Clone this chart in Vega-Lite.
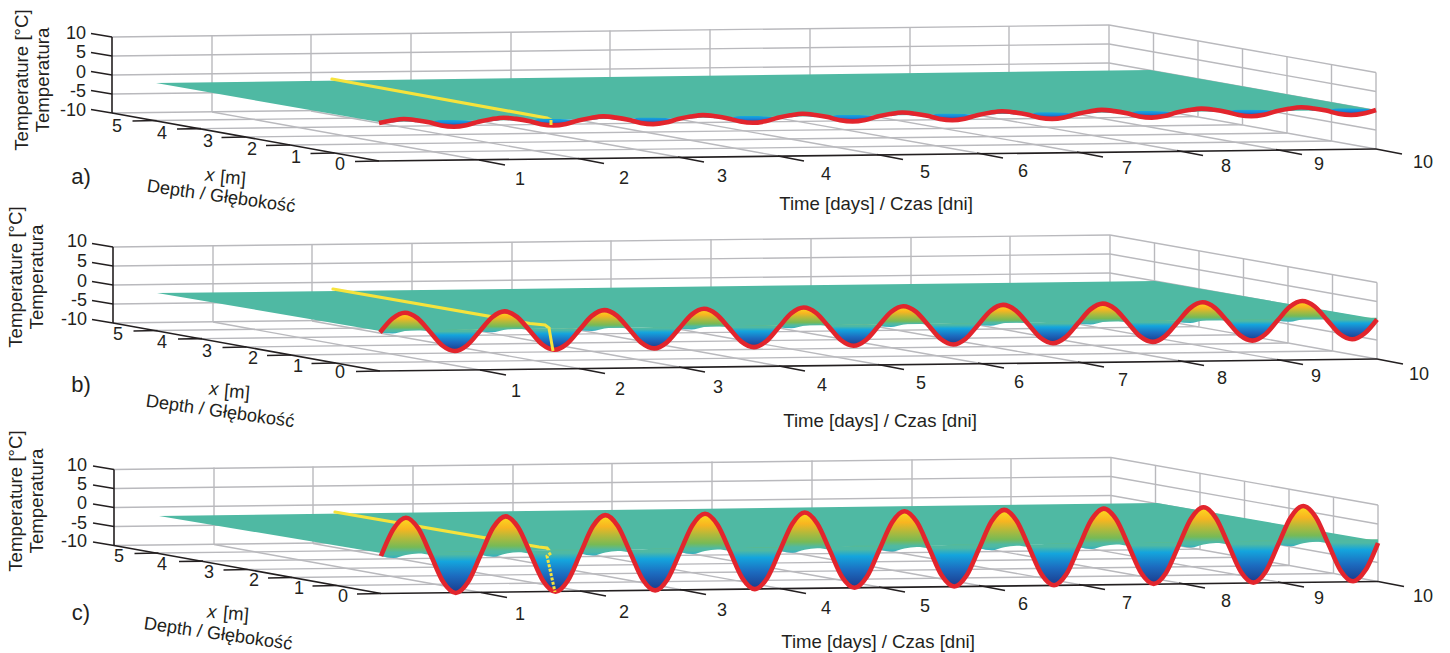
{"$schema":"https://vega.github.io/schema/vega-lite/v6.json","width":1450,"height":653,"padding":0,"autosize":{"type":"none"},"background":"white","config":{"view":{"stroke":null}},
"datasets":{
"grid":[
{"x":212,"y":112,"u":212,"v":35},{"x":311,"y":111,"u":311,"v":34},{"x":411,"y":109,"u":411,"v":33},{"x":511,"y":108,"u":511,"v":32},{"x":610,"y":107,"u":610,"v":30.5},{"x":710,"y":106,"u":710,"v":29},{"x":810,"y":105,"u":810,"v":28},{"x":910,"y":103,"u":910,"v":27},{"x":1009,"y":102,"u":1009,"v":26},{"x":1109,"y":101,"u":1109,"v":25},
{"x":112,"y":37,"u":1109,"v":25},{"x":112,"y":56,"u":1109,"v":44},{"x":112,"y":75,"u":1109,"v":63},{"x":112,"y":94,"u":1109,"v":82},{"x":112,"y":113,"u":1109,"v":101},
{"x":1109,"y":25,"u":1376,"v":72.5},{"x":1109,"y":44,"u":1376,"v":91.5},{"x":1109,"y":63,"u":1376,"v":110.5},{"x":1109,"y":82,"u":1376,"v":130},{"x":1109,"y":101,"u":1376,"v":149},
{"x":1376,"y":149,"u":1376,"v":72.5},{"x":1331.5,"y":141,"u":1331.5,"v":64.7},{"x":1287,"y":133,"u":1287,"v":56.8},{"x":1242.5,"y":124.7,"u":1242.5,"v":49},{"x":1198,"y":116.6,"u":1198,"v":41},{"x":1153.5,"y":108.5,"u":1153.5,"v":33},
{"x":334.5,"y":153,"u":1331.5,"v":141},{"x":290,"y":145,"u":1287,"v":133},{"x":245.5,"y":137,"u":1242.5,"v":124.7},{"x":201,"y":128.6,"u":1198,"v":116.6},{"x":156.5,"y":120.5,"u":1153.5,"v":108.5},
{"x":212,"y":112,"u":479,"v":160},{"x":311,"y":111,"u":578,"v":158.5},{"x":411,"y":109,"u":678,"v":157},{"x":511,"y":108,"u":778,"v":156},{"x":610,"y":107,"u":877,"v":154.5},{"x":710,"y":106,"u":977,"v":153},{"x":810,"y":105,"u":1077,"v":152},{"x":910,"y":103,"u":1177,"v":150.5},{"x":1009,"y":102,"u":1276,"v":149.5},
{"x":213,"y":322,"u":213,"v":245},{"x":312,"y":321,"u":312,"v":244},{"x":412,"y":319,"u":412,"v":243},{"x":512,"y":318,"u":512,"v":242},{"x":611,"y":317,"u":611,"v":240.5},{"x":711,"y":316,"u":711,"v":239},{"x":811,"y":315,"u":811,"v":238},{"x":911,"y":313,"u":911,"v":237},{"x":1010,"y":312,"u":1010,"v":236},{"x":1110,"y":311,"u":1110,"v":235},
{"x":113,"y":247,"u":1110,"v":235},{"x":113,"y":266,"u":1110,"v":254},{"x":113,"y":285,"u":1110,"v":273},{"x":113,"y":304,"u":1110,"v":292},{"x":113,"y":323,"u":1110,"v":311},
{"x":1110,"y":235,"u":1377,"v":282.5},{"x":1110,"y":254,"u":1377,"v":301.5},{"x":1110,"y":273,"u":1377,"v":320.5},{"x":1110,"y":292,"u":1377,"v":340},{"x":1110,"y":311,"u":1377,"v":359},
{"x":1377,"y":359,"u":1377,"v":282.5},{"x":1332.5,"y":351,"u":1332.5,"v":274.7},{"x":1288,"y":343,"u":1288,"v":266.8},{"x":1243.5,"y":334.7,"u":1243.5,"v":259},{"x":1199,"y":326.6,"u":1199,"v":251},{"x":1154.5,"y":318.5,"u":1154.5,"v":243},
{"x":335.5,"y":363,"u":1332.5,"v":351},{"x":291,"y":355,"u":1288,"v":343},{"x":246.5,"y":347,"u":1243.5,"v":334.7},{"x":202,"y":338.6,"u":1199,"v":326.6},{"x":157.5,"y":330.5,"u":1154.5,"v":318.5},
{"x":213,"y":322,"u":480,"v":370},{"x":312,"y":321,"u":579,"v":368.5},{"x":412,"y":319,"u":679,"v":367},{"x":512,"y":318,"u":779,"v":366},{"x":611,"y":317,"u":878,"v":364.5},{"x":711,"y":316,"u":978,"v":363},{"x":811,"y":315,"u":1078,"v":362},{"x":911,"y":313,"u":1178,"v":360.5},{"x":1010,"y":312,"u":1277,"v":359.5},
{"x":214,"y":544.5,"u":214,"v":467.5},{"x":313,"y":543.5,"u":313,"v":466.5},{"x":413,"y":541.5,"u":413,"v":465.5},{"x":513,"y":540.5,"u":513,"v":464.5},{"x":612,"y":539.5,"u":612,"v":463},{"x":712,"y":538.5,"u":712,"v":461.5},{"x":812,"y":537.5,"u":812,"v":460.5},{"x":912,"y":535.5,"u":912,"v":459.5},{"x":1011,"y":534.5,"u":1011,"v":458.5},{"x":1111,"y":533.5,"u":1111,"v":457.5},
{"x":114,"y":469.5,"u":1111,"v":457.5},{"x":114,"y":488.5,"u":1111,"v":476.5},{"x":114,"y":507.5,"u":1111,"v":495.5},{"x":114,"y":526.5,"u":1111,"v":514.5},{"x":114,"y":545.5,"u":1111,"v":533.5},
{"x":1111,"y":457.5,"u":1378,"v":505},{"x":1111,"y":476.5,"u":1378,"v":524},{"x":1111,"y":495.5,"u":1378,"v":543},{"x":1111,"y":514.5,"u":1378,"v":562.5},{"x":1111,"y":533.5,"u":1378,"v":581.5},
{"x":1378,"y":581.5,"u":1378,"v":505},{"x":1333.5,"y":573.5,"u":1333.5,"v":497.2},{"x":1289,"y":565.5,"u":1289,"v":489.3},{"x":1244.5,"y":557.2,"u":1244.5,"v":481.5},{"x":1200,"y":549.1,"u":1200,"v":473.5},{"x":1155.5,"y":541,"u":1155.5,"v":465.5},
{"x":336.5,"y":585.5,"u":1333.5,"v":573.5},{"x":292,"y":577.5,"u":1289,"v":565.5},{"x":247.5,"y":569.5,"u":1244.5,"v":557.2},{"x":203,"y":561.1,"u":1200,"v":549.1},{"x":158.5,"y":553,"u":1155.5,"v":541},
{"x":214,"y":544.5,"u":481,"v":592.5},{"x":313,"y":543.5,"u":580,"v":591},{"x":413,"y":541.5,"u":680,"v":589.5},{"x":513,"y":540.5,"u":780,"v":588.5},{"x":612,"y":539.5,"u":879,"v":587},{"x":712,"y":538.5,"u":979,"v":585.5},{"x":812,"y":537.5,"u":1079,"v":584.5},{"x":912,"y":535.5,"u":1179,"v":583},{"x":1011,"y":534.5,"u":1278,"v":582}
],
"axes":[
{"x":379,"y":161,"u":1376,"v":149},{"x":379,"y":161,"u":112,"v":113},{"x":112,"y":113,"u":112,"v":37},
{"x":91,"y":33.5,"u":112,"v":37},{"x":91,"y":52.5,"u":112,"v":56},{"x":91,"y":71.5,"u":112,"v":75},{"x":91,"y":90.5,"u":112,"v":94},{"x":91,"y":109.5,"u":112,"v":113},
{"x":479,"y":160,"u":505,"v":165},{"x":578,"y":158.5,"u":604,"v":163.5},{"x":678,"y":157,"u":704,"v":162},{"x":778,"y":156,"u":804,"v":161},{"x":877,"y":154.5,"u":903,"v":159.5},{"x":977,"y":153,"u":1003,"v":158},{"x":1077,"y":152,"u":1103,"v":157},{"x":1177,"y":150.5,"u":1203,"v":155.5},{"x":1276,"y":149.5,"u":1302,"v":154.5},{"x":1376,"y":149,"u":1402,"v":154},
{"x":355,"y":161.5,"u":379,"v":161},{"x":310.5,"y":153.5,"u":334.5,"v":153},{"x":266,"y":145.5,"u":290,"v":145},{"x":221.5,"y":137.5,"u":245.5,"v":137},{"x":177,"y":129,"u":201,"v":128.6},{"x":132.5,"y":121,"u":156.5,"v":120.5},
{"x":380,"y":371,"u":1377,"v":359},{"x":380,"y":371,"u":113,"v":323},{"x":113,"y":323,"u":113,"v":247},
{"x":92,"y":243.5,"u":113,"v":247},{"x":92,"y":262.5,"u":113,"v":266},{"x":92,"y":281.5,"u":113,"v":285},{"x":92,"y":300.5,"u":113,"v":304},{"x":92,"y":319.5,"u":113,"v":323},
{"x":480,"y":370,"u":506,"v":375},{"x":579,"y":368.5,"u":605,"v":373.5},{"x":679,"y":367,"u":705,"v":372},{"x":779,"y":366,"u":805,"v":371},{"x":878,"y":364.5,"u":904,"v":369.5},{"x":978,"y":363,"u":1004,"v":368},{"x":1078,"y":362,"u":1104,"v":367},{"x":1178,"y":360.5,"u":1204,"v":365.5},{"x":1277,"y":359.5,"u":1303,"v":364.5},{"x":1377,"y":359,"u":1403,"v":364},
{"x":356,"y":371.5,"u":380,"v":371},{"x":311.5,"y":363.5,"u":335.5,"v":363},{"x":267,"y":355.5,"u":291,"v":355},{"x":222.5,"y":347.5,"u":246.5,"v":347},{"x":178,"y":339,"u":202,"v":338.6},{"x":133.5,"y":331,"u":157.5,"v":330.5},
{"x":381,"y":593.5,"u":1378,"v":581.5},{"x":381,"y":593.5,"u":114,"v":545.5},{"x":114,"y":545.5,"u":114,"v":469.5},
{"x":93,"y":466,"u":114,"v":469.5},{"x":93,"y":485,"u":114,"v":488.5},{"x":93,"y":504,"u":114,"v":507.5},{"x":93,"y":523,"u":114,"v":526.5},{"x":93,"y":542,"u":114,"v":545.5},
{"x":481,"y":592.5,"u":507,"v":597.5},{"x":580,"y":591,"u":606,"v":596},{"x":680,"y":589.5,"u":706,"v":594.5},{"x":780,"y":588.5,"u":806,"v":593.5},{"x":879,"y":587,"u":905,"v":592},{"x":979,"y":585.5,"u":1005,"v":590.5},{"x":1079,"y":584.5,"u":1105,"v":589.5},{"x":1179,"y":583,"u":1205,"v":588},{"x":1278,"y":582,"u":1304,"v":587},{"x":1378,"y":581.5,"u":1404,"v":586.5},
{"x":357,"y":594,"u":381,"v":593.5},{"x":312.5,"y":586,"u":336.5,"v":585.5},{"x":268,"y":578,"u":292,"v":577.5},{"x":223.5,"y":570,"u":247.5,"v":569.5},{"x":179,"y":561.5,"u":203,"v":561.1},{"x":134.5,"y":553.5,"u":158.5,"v":553}
],
"surface":[
{"p":"a","x":156,"y":83,"l":83},{"p":"a","x":379,"y":80,"l":122},{"p":"a","x":1150,"y":70,"l":112},{"p":"a","x":1376,"y":110,"l":110},
{"p":"b","x":157,"y":293,"l":293},{"p":"b","x":380,"y":290.5,"l":331},{"p":"b","x":1155,"y":281,"l":321},{"p":"b","x":1377,"y":319,"l":319},
{"p":"c","x":159,"y":516,"l":516},{"p":"c","x":381,"y":513,"l":553},{"p":"c","x":1157,"y":503,"l":543},{"p":"c","x":1372,"y":540,"l":541}
],
"yellow1":[
{"p":"a","x":332,"y":79},{"p":"a","x":547,"y":118},{"p":"a","x":551,"y":120},
{"p":"b","x":333,"y":289},{"p":"b","x":530,"y":323.5},{"p":"b","x":545,"y":325},{"p":"b","x":549,"y":328},
{"p":"c","x":335,"y":512},{"p":"c","x":539,"y":547},{"p":"c","x":547,"y":548},{"p":"c","x":551,"y":553}
],
"yellow2":[{"p":"a","x":551,"y":120},{"p":"a","x":551,"y":125},{"p":"b","x":549,"y":328},{"p":"b","x":553,"y":351}],
"yellow3":[{"p":"c","x":551,"y":553},{"p":"c","x":547,"y":556},{"p":"c","x":555,"y":592}],
"wave":[
{"id":"a0","p":"a","x":379,"w":123,"u":123,"l":123},{"id":"a0","p":"a","x":391.5,"w":120.5,"u":120.5,"l":122.5},{"id":"a0","p":"a","x":403.9,"w":119,"u":119,"l":121},{"id":"a0","p":"a","x":416.4,"w":120.2,"u":120.2,"l":122.2},{"id":"a0","p":"a","x":428.9,"w":122.3,"u":122,"l":122.3},{"id":"a0","p":"a","x":441.3,"w":125.5,"u":120,"l":125.5},{"id":"a0","p":"a","x":453.8,"w":126.7,"u":120,"l":126.7},{"id":"a0","p":"a","x":466.2,"w":125.2,"u":120.5,"l":125.2},{"id":"a0","p":"a","x":478.7,"w":121.7,"u":121.7,"l":121.7},
{"id":"a1","p":"a","x":478.7,"w":121.7,"u":121.7,"l":121.7},{"id":"a1","p":"a","x":491.2,"w":119.2,"u":119.2,"l":121.2},{"id":"a1","p":"a","x":503.6,"w":117.7,"u":117.7,"l":119.7},{"id":"a1","p":"a","x":516.1,"w":118.9,"u":118.9,"l":120.9},{"id":"a1","p":"a","x":528.6,"w":121,"u":120.7,"l":121},{"id":"a1","p":"a","x":541,"w":124.2,"u":118.7,"l":124.2},{"id":"a1","p":"a","x":553.5,"w":125.4,"u":118.7,"l":125.4},{"id":"a1","p":"a","x":565.9,"w":123.9,"u":119.2,"l":123.9},{"id":"a1","p":"a","x":578.4,"w":120.4,"u":120.4,"l":120.4},
{"id":"a2","p":"a","x":578.4,"w":120.4,"u":120.4,"l":120.4},{"id":"a2","p":"a","x":590.9,"w":117.9,"u":117.9,"l":119.9},{"id":"a2","p":"a","x":603.3,"w":116.4,"u":116.4,"l":118.4},{"id":"a2","p":"a","x":615.8,"w":117.6,"u":117.6,"l":119.6},{"id":"a2","p":"a","x":628.3,"w":119.7,"u":119.4,"l":119.7},{"id":"a2","p":"a","x":640.7,"w":122.9,"u":117.4,"l":122.9},{"id":"a2","p":"a","x":653.2,"w":124.1,"u":117.4,"l":124.1},{"id":"a2","p":"a","x":665.6,"w":122.6,"u":117.9,"l":122.6},{"id":"a2","p":"a","x":678.1,"w":119.1,"u":119.1,"l":119.1},
{"id":"a3","p":"a","x":678.1,"w":119.1,"u":119.1,"l":119.1},{"id":"a3","p":"a","x":690.6,"w":116.6,"u":116.6,"l":118.6},{"id":"a3","p":"a","x":703,"w":115.1,"u":115.1,"l":117.1},{"id":"a3","p":"a","x":715.5,"w":116.3,"u":116.3,"l":118.3},{"id":"a3","p":"a","x":728,"w":118.4,"u":118.1,"l":118.4},{"id":"a3","p":"a","x":740.4,"w":121.6,"u":116.1,"l":121.6},{"id":"a3","p":"a","x":752.9,"w":122.8,"u":116.1,"l":122.8},{"id":"a3","p":"a","x":765.3,"w":121.3,"u":116.6,"l":121.3},{"id":"a3","p":"a","x":777.8,"w":117.8,"u":117.8,"l":117.8},
{"id":"a4","p":"a","x":777.8,"w":117.8,"u":117.8,"l":117.8},{"id":"a4","p":"a","x":790.3,"w":115.3,"u":115.3,"l":117.3},{"id":"a4","p":"a","x":802.7,"w":113.8,"u":113.8,"l":115.8},{"id":"a4","p":"a","x":815.2,"w":115,"u":115,"l":117},{"id":"a4","p":"a","x":827.7,"w":117.1,"u":116.8,"l":117.1},{"id":"a4","p":"a","x":840.1,"w":120.3,"u":114.8,"l":120.3},{"id":"a4","p":"a","x":852.6,"w":121.5,"u":114.8,"l":121.5},{"id":"a4","p":"a","x":865,"w":120,"u":115.3,"l":120},{"id":"a4","p":"a","x":877.5,"w":116.5,"u":116.5,"l":116.5},
{"id":"a5","p":"a","x":877.5,"w":116.5,"u":116.5,"l":116.5},{"id":"a5","p":"a","x":890,"w":114,"u":114,"l":116},{"id":"a5","p":"a","x":902.4,"w":112.5,"u":112.5,"l":114.5},{"id":"a5","p":"a","x":914.9,"w":113.7,"u":113.7,"l":115.7},{"id":"a5","p":"a","x":927.4,"w":115.8,"u":115.5,"l":115.8},{"id":"a5","p":"a","x":939.8,"w":119,"u":113.5,"l":119},{"id":"a5","p":"a","x":952.3,"w":120.2,"u":113.5,"l":120.2},{"id":"a5","p":"a","x":964.7,"w":118.7,"u":114,"l":118.7},{"id":"a5","p":"a","x":977.2,"w":115.2,"u":115.2,"l":115.2},
{"id":"a6","p":"a","x":977.2,"w":115.2,"u":115.2,"l":115.2},{"id":"a6","p":"a","x":989.7,"w":112.7,"u":112.7,"l":114.7},{"id":"a6","p":"a","x":1002.1,"w":111.2,"u":111.2,"l":113.2},{"id":"a6","p":"a","x":1014.6,"w":112.4,"u":112.4,"l":114.4},{"id":"a6","p":"a","x":1027.1,"w":114.5,"u":114.2,"l":114.5},{"id":"a6","p":"a","x":1039.5,"w":117.7,"u":112.2,"l":117.7},{"id":"a6","p":"a","x":1052,"w":118.9,"u":112.2,"l":118.9},{"id":"a6","p":"a","x":1064.4,"w":117.4,"u":112.7,"l":117.4},{"id":"a6","p":"a","x":1076.9,"w":113.9,"u":113.9,"l":113.9},
{"id":"a7","p":"a","x":1076.9,"w":113.9,"u":113.9,"l":113.9},{"id":"a7","p":"a","x":1089.4,"w":111.4,"u":111.4,"l":113.4},{"id":"a7","p":"a","x":1101.8,"w":109.9,"u":109.9,"l":111.9},{"id":"a7","p":"a","x":1114.3,"w":111.1,"u":111.1,"l":113.1},{"id":"a7","p":"a","x":1126.8,"w":113.2,"u":112.9,"l":113.2},{"id":"a7","p":"a","x":1139.2,"w":116.4,"u":110.9,"l":116.4},{"id":"a7","p":"a","x":1151.7,"w":117.6,"u":110.9,"l":117.6},{"id":"a7","p":"a","x":1164.1,"w":116.1,"u":111.4,"l":116.1},{"id":"a7","p":"a","x":1176.6,"w":112.6,"u":112.6,"l":112.6},
{"id":"a8","p":"a","x":1176.6,"w":112.6,"u":112.6,"l":112.6},{"id":"a8","p":"a","x":1189.1,"w":110.1,"u":110.1,"l":112.1},{"id":"a8","p":"a","x":1201.5,"w":108.6,"u":108.6,"l":110.6},{"id":"a8","p":"a","x":1214,"w":109.8,"u":109.8,"l":111.8},{"id":"a8","p":"a","x":1226.5,"w":111.9,"u":111.6,"l":111.9},{"id":"a8","p":"a","x":1238.9,"w":115.1,"u":109.6,"l":115.1},{"id":"a8","p":"a","x":1251.4,"w":116.3,"u":109.6,"l":116.3},{"id":"a8","p":"a","x":1263.8,"w":114.8,"u":110.1,"l":114.8},{"id":"a8","p":"a","x":1276.3,"w":111.3,"u":111.3,"l":111.3},
{"id":"a9","p":"a","x":1276.3,"w":111.3,"u":111.3,"l":111.3},{"id":"a9","p":"a","x":1288.8,"w":108.8,"u":108.8,"l":110.8},{"id":"a9","p":"a","x":1301.2,"w":107.3,"u":107.3,"l":109.3},{"id":"a9","p":"a","x":1313.7,"w":108.5,"u":108.5,"l":110.5},{"id":"a9","p":"a","x":1326.2,"w":110.6,"u":110.3,"l":110.6},{"id":"a9","p":"a","x":1338.6,"w":113.8,"u":108.3,"l":113.8},{"id":"a9","p":"a","x":1351.1,"w":115,"u":108.3,"l":115},{"id":"a9","p":"a","x":1363.5,"w":113.5,"u":108.8,"l":113.5},{"id":"a9","p":"a","x":1376,"w":110,"u":110,"l":110},
{"id":"b0","p":"b","x":380,"w":332.5,"u":332.5,"l":332.5},{"id":"b0","p":"b","x":392.5,"w":318.5,"u":318.5,"l":333.5},{"id":"b0","p":"b","x":404.9,"w":312.7,"u":312.7,"l":331},{"id":"b0","p":"b","x":417.4,"w":318.2,"u":318.2,"l":330},{"id":"b0","p":"b","x":429.9,"w":331.8,"u":330,"l":331.8},{"id":"b0","p":"b","x":442.3,"w":345.5,"u":330,"l":345.5},{"id":"b0","p":"b","x":454.8,"w":351,"u":329.5,"l":351},{"id":"b0","p":"b","x":467.2,"w":345.2,"u":329.5,"l":345.2},{"id":"b0","p":"b","x":479.7,"w":331.2,"u":329.5,"l":331.2},
{"id":"b1","p":"b","x":479.7,"w":331.2,"u":331.2,"l":331.2},{"id":"b1","p":"b","x":492.2,"w":317.2,"u":317.2,"l":332.2},{"id":"b1","p":"b","x":504.6,"w":311.4,"u":311.4,"l":329.7},{"id":"b1","p":"b","x":517.1,"w":316.9,"u":316.9,"l":328.7},{"id":"b1","p":"b","x":529.6,"w":330.5,"u":328.7,"l":330.5},{"id":"b1","p":"b","x":542,"w":344.2,"u":328.7,"l":344.2},{"id":"b1","p":"b","x":554.5,"w":349.7,"u":328.2,"l":349.7},{"id":"b1","p":"b","x":566.9,"w":343.9,"u":328.2,"l":343.9},{"id":"b1","p":"b","x":579.4,"w":329.9,"u":328.2,"l":329.9},
{"id":"b2","p":"b","x":579.4,"w":329.9,"u":329.9,"l":329.9},{"id":"b2","p":"b","x":591.9,"w":315.9,"u":315.9,"l":330.9},{"id":"b2","p":"b","x":604.3,"w":310.1,"u":310.1,"l":328.4},{"id":"b2","p":"b","x":616.8,"w":315.6,"u":315.6,"l":327.4},{"id":"b2","p":"b","x":629.3,"w":329.2,"u":327.4,"l":329.2},{"id":"b2","p":"b","x":641.7,"w":342.9,"u":327.4,"l":342.9},{"id":"b2","p":"b","x":654.2,"w":348.4,"u":326.9,"l":348.4},{"id":"b2","p":"b","x":666.6,"w":342.6,"u":326.9,"l":342.6},{"id":"b2","p":"b","x":679.1,"w":328.6,"u":326.9,"l":328.6},
{"id":"b3","p":"b","x":679.1,"w":328.6,"u":328.6,"l":328.6},{"id":"b3","p":"b","x":691.6,"w":314.6,"u":314.6,"l":329.6},{"id":"b3","p":"b","x":704,"w":308.8,"u":308.8,"l":327.1},{"id":"b3","p":"b","x":716.5,"w":314.3,"u":314.3,"l":326.1},{"id":"b3","p":"b","x":729,"w":327.9,"u":326.1,"l":327.9},{"id":"b3","p":"b","x":741.4,"w":341.6,"u":326.1,"l":341.6},{"id":"b3","p":"b","x":753.9,"w":347.1,"u":325.6,"l":347.1},{"id":"b3","p":"b","x":766.3,"w":341.3,"u":325.6,"l":341.3},{"id":"b3","p":"b","x":778.8,"w":327.3,"u":325.6,"l":327.3},
{"id":"b4","p":"b","x":778.8,"w":327.3,"u":327.3,"l":327.3},{"id":"b4","p":"b","x":791.3,"w":313.3,"u":313.3,"l":328.3},{"id":"b4","p":"b","x":803.7,"w":307.5,"u":307.5,"l":325.8},{"id":"b4","p":"b","x":816.2,"w":313,"u":313,"l":324.8},{"id":"b4","p":"b","x":828.7,"w":326.6,"u":324.8,"l":326.6},{"id":"b4","p":"b","x":841.1,"w":340.3,"u":324.8,"l":340.3},{"id":"b4","p":"b","x":853.6,"w":345.8,"u":324.3,"l":345.8},{"id":"b4","p":"b","x":866,"w":340,"u":324.3,"l":340},{"id":"b4","p":"b","x":878.5,"w":326,"u":324.3,"l":326},
{"id":"b5","p":"b","x":878.5,"w":326,"u":326,"l":326},{"id":"b5","p":"b","x":891,"w":312,"u":312,"l":327},{"id":"b5","p":"b","x":903.4,"w":306.2,"u":306.2,"l":324.5},{"id":"b5","p":"b","x":915.9,"w":311.7,"u":311.7,"l":323.5},{"id":"b5","p":"b","x":928.4,"w":325.3,"u":323.5,"l":325.3},{"id":"b5","p":"b","x":940.8,"w":339,"u":323.5,"l":339},{"id":"b5","p":"b","x":953.3,"w":344.5,"u":323,"l":344.5},{"id":"b5","p":"b","x":965.7,"w":338.7,"u":323,"l":338.7},{"id":"b5","p":"b","x":978.2,"w":324.7,"u":323,"l":324.7},
{"id":"b6","p":"b","x":978.2,"w":324.7,"u":324.7,"l":324.7},{"id":"b6","p":"b","x":990.7,"w":310.7,"u":310.7,"l":325.7},{"id":"b6","p":"b","x":1003.1,"w":304.9,"u":304.9,"l":323.2},{"id":"b6","p":"b","x":1015.6,"w":310.4,"u":310.4,"l":322.2},{"id":"b6","p":"b","x":1028.1,"w":324,"u":322.2,"l":324},{"id":"b6","p":"b","x":1040.5,"w":337.7,"u":322.2,"l":337.7},{"id":"b6","p":"b","x":1053,"w":343.2,"u":321.7,"l":343.2},{"id":"b6","p":"b","x":1065.4,"w":337.4,"u":321.7,"l":337.4},{"id":"b6","p":"b","x":1077.9,"w":323.4,"u":321.7,"l":323.4},
{"id":"b7","p":"b","x":1077.9,"w":323.4,"u":323.4,"l":323.4},{"id":"b7","p":"b","x":1090.4,"w":309.4,"u":309.4,"l":324.4},{"id":"b7","p":"b","x":1102.8,"w":303.6,"u":303.6,"l":321.9},{"id":"b7","p":"b","x":1115.3,"w":309.1,"u":309.1,"l":320.9},{"id":"b7","p":"b","x":1127.8,"w":322.7,"u":320.9,"l":322.7},{"id":"b7","p":"b","x":1140.2,"w":336.4,"u":320.9,"l":336.4},{"id":"b7","p":"b","x":1152.7,"w":341.9,"u":320.4,"l":341.9},{"id":"b7","p":"b","x":1165.1,"w":336.1,"u":320.4,"l":336.1},{"id":"b7","p":"b","x":1177.6,"w":322.1,"u":320.4,"l":322.1},
{"id":"b8","p":"b","x":1177.6,"w":322.1,"u":322.1,"l":322.1},{"id":"b8","p":"b","x":1190.1,"w":308.1,"u":308.1,"l":323.1},{"id":"b8","p":"b","x":1202.5,"w":302.3,"u":302.3,"l":320.6},{"id":"b8","p":"b","x":1215,"w":307.8,"u":307.8,"l":319.6},{"id":"b8","p":"b","x":1227.5,"w":321.4,"u":319.6,"l":321.4},{"id":"b8","p":"b","x":1239.9,"w":335.1,"u":319.6,"l":335.1},{"id":"b8","p":"b","x":1252.4,"w":340.6,"u":319.1,"l":340.6},{"id":"b8","p":"b","x":1264.8,"w":334.8,"u":319.1,"l":334.8},{"id":"b8","p":"b","x":1277.3,"w":320.8,"u":319.1,"l":320.8},
{"id":"b9","p":"b","x":1277.3,"w":320.8,"u":320.8,"l":320.8},{"id":"b9","p":"b","x":1289.8,"w":306.8,"u":306.8,"l":321.8},{"id":"b9","p":"b","x":1302.2,"w":301,"u":301,"l":319.3},{"id":"b9","p":"b","x":1314.7,"w":306.5,"u":306.5,"l":318.3},{"id":"b9","p":"b","x":1327.2,"w":320.1,"u":318.3,"l":320.1},{"id":"b9","p":"b","x":1339.6,"w":333.8,"u":318.3,"l":333.8},{"id":"b9","p":"b","x":1352.1,"w":339.3,"u":317.8,"l":339.3},{"id":"b9","p":"b","x":1364.5,"w":333.5,"u":317.8,"l":333.5},{"id":"b9","p":"b","x":1377,"w":319.5,"u":317.8,"l":319.5},
{"id":"c0","p":"c","x":381,"w":556,"u":556,"l":556},{"id":"c0","p":"c","x":393.5,"w":528.9,"u":528.9,"l":558},{"id":"c0","p":"c","x":405.9,"w":517.7,"u":517.7,"l":555},{"id":"c0","p":"c","x":418.4,"w":528.6,"u":528.6,"l":553.5},{"id":"c0","p":"c","x":430.9,"w":555.3,"u":552,"l":555.3},{"id":"c0","p":"c","x":443.3,"w":582.1,"u":552,"l":582.1},{"id":"c0","p":"c","x":455.8,"w":593,"u":551,"l":593},{"id":"c0","p":"c","x":468.2,"w":581.8,"u":551,"l":581.8},{"id":"c0","p":"c","x":480.7,"w":554.7,"u":551,"l":554.7},
{"id":"c1","p":"c","x":480.7,"w":554.7,"u":554.7,"l":554.7},{"id":"c1","p":"c","x":493.2,"w":527.6,"u":527.6,"l":556.7},{"id":"c1","p":"c","x":505.6,"w":516.4,"u":516.4,"l":553.7},{"id":"c1","p":"c","x":518.1,"w":527.3,"u":527.3,"l":552.2},{"id":"c1","p":"c","x":530.6,"w":554,"u":550.7,"l":554},{"id":"c1","p":"c","x":543,"w":580.8,"u":550.7,"l":580.8},{"id":"c1","p":"c","x":555.5,"w":591.7,"u":549.7,"l":591.7},{"id":"c1","p":"c","x":567.9,"w":580.5,"u":549.7,"l":580.5},{"id":"c1","p":"c","x":580.4,"w":553.4,"u":549.7,"l":553.4},
{"id":"c2","p":"c","x":580.4,"w":553.4,"u":553.4,"l":553.4},{"id":"c2","p":"c","x":592.9,"w":526.3,"u":526.3,"l":555.4},{"id":"c2","p":"c","x":605.3,"w":515.1,"u":515.1,"l":552.4},{"id":"c2","p":"c","x":617.8,"w":526,"u":526,"l":550.9},{"id":"c2","p":"c","x":630.3,"w":552.7,"u":549.4,"l":552.7},{"id":"c2","p":"c","x":642.7,"w":579.5,"u":549.4,"l":579.5},{"id":"c2","p":"c","x":655.2,"w":590.4,"u":548.4,"l":590.4},{"id":"c2","p":"c","x":667.6,"w":579.2,"u":548.4,"l":579.2},{"id":"c2","p":"c","x":680.1,"w":552.1,"u":548.4,"l":552.1},
{"id":"c3","p":"c","x":680.1,"w":552.1,"u":552.1,"l":552.1},{"id":"c3","p":"c","x":692.6,"w":525,"u":525,"l":554.1},{"id":"c3","p":"c","x":705,"w":513.8,"u":513.8,"l":551.1},{"id":"c3","p":"c","x":717.5,"w":524.7,"u":524.7,"l":549.6},{"id":"c3","p":"c","x":730,"w":551.4,"u":548.1,"l":551.4},{"id":"c3","p":"c","x":742.4,"w":578.2,"u":548.1,"l":578.2},{"id":"c3","p":"c","x":754.9,"w":589.1,"u":547.1,"l":589.1},{"id":"c3","p":"c","x":767.3,"w":577.9,"u":547.1,"l":577.9},{"id":"c3","p":"c","x":779.8,"w":550.8,"u":547.1,"l":550.8},
{"id":"c4","p":"c","x":779.8,"w":550.8,"u":550.8,"l":550.8},{"id":"c4","p":"c","x":792.3,"w":523.7,"u":523.7,"l":552.8},{"id":"c4","p":"c","x":804.7,"w":512.5,"u":512.5,"l":549.8},{"id":"c4","p":"c","x":817.2,"w":523.4,"u":523.4,"l":548.3},{"id":"c4","p":"c","x":829.7,"w":550.1,"u":546.8,"l":550.1},{"id":"c4","p":"c","x":842.1,"w":576.9,"u":546.8,"l":576.9},{"id":"c4","p":"c","x":854.6,"w":587.8,"u":545.8,"l":587.8},{"id":"c4","p":"c","x":867,"w":576.6,"u":545.8,"l":576.6},{"id":"c4","p":"c","x":879.5,"w":549.5,"u":545.8,"l":549.5},
{"id":"c5","p":"c","x":879.5,"w":549.5,"u":549.5,"l":549.5},{"id":"c5","p":"c","x":892,"w":522.4,"u":522.4,"l":551.5},{"id":"c5","p":"c","x":904.4,"w":511.2,"u":511.2,"l":548.5},{"id":"c5","p":"c","x":916.9,"w":522.1,"u":522.1,"l":547},{"id":"c5","p":"c","x":929.4,"w":548.8,"u":545.5,"l":548.8},{"id":"c5","p":"c","x":941.8,"w":575.6,"u":545.5,"l":575.6},{"id":"c5","p":"c","x":954.3,"w":586.5,"u":544.5,"l":586.5},{"id":"c5","p":"c","x":966.7,"w":575.3,"u":544.5,"l":575.3},{"id":"c5","p":"c","x":979.2,"w":548.2,"u":544.5,"l":548.2},
{"id":"c6","p":"c","x":979.2,"w":548.2,"u":548.2,"l":548.2},{"id":"c6","p":"c","x":991.7,"w":521.1,"u":521.1,"l":550.2},{"id":"c6","p":"c","x":1004.1,"w":509.9,"u":509.9,"l":547.2},{"id":"c6","p":"c","x":1016.6,"w":520.8,"u":520.8,"l":545.7},{"id":"c6","p":"c","x":1029.1,"w":547.5,"u":544.2,"l":547.5},{"id":"c6","p":"c","x":1041.5,"w":574.3,"u":544.2,"l":574.3},{"id":"c6","p":"c","x":1054,"w":585.2,"u":543.2,"l":585.2},{"id":"c6","p":"c","x":1066.4,"w":574,"u":543.2,"l":574},{"id":"c6","p":"c","x":1078.9,"w":546.9,"u":543.2,"l":546.9},
{"id":"c7","p":"c","x":1078.9,"w":546.9,"u":546.9,"l":546.9},{"id":"c7","p":"c","x":1091.4,"w":519.8,"u":519.8,"l":548.9},{"id":"c7","p":"c","x":1103.8,"w":508.6,"u":508.6,"l":545.9},{"id":"c7","p":"c","x":1116.3,"w":519.5,"u":519.5,"l":544.4},{"id":"c7","p":"c","x":1128.8,"w":546.2,"u":542.9,"l":546.2},{"id":"c7","p":"c","x":1141.2,"w":573,"u":542.9,"l":573},{"id":"c7","p":"c","x":1153.7,"w":583.9,"u":541.9,"l":583.9},{"id":"c7","p":"c","x":1166.1,"w":572.7,"u":541.9,"l":572.7},{"id":"c7","p":"c","x":1178.6,"w":545.6,"u":541.9,"l":545.6},
{"id":"c8","p":"c","x":1178.6,"w":545.6,"u":545.6,"l":545.6},{"id":"c8","p":"c","x":1191.1,"w":518.5,"u":518.5,"l":547.6},{"id":"c8","p":"c","x":1203.5,"w":507.3,"u":507.3,"l":544.6},{"id":"c8","p":"c","x":1216,"w":518.2,"u":518.2,"l":543.1},{"id":"c8","p":"c","x":1228.5,"w":544.9,"u":541.6,"l":544.9},{"id":"c8","p":"c","x":1240.9,"w":571.7,"u":541.6,"l":571.7},{"id":"c8","p":"c","x":1253.4,"w":582.6,"u":540.6,"l":582.6},{"id":"c8","p":"c","x":1265.8,"w":571.4,"u":540.6,"l":571.4},{"id":"c8","p":"c","x":1278.3,"w":544.3,"u":540.6,"l":544.3},
{"id":"c9","p":"c","x":1278.3,"w":544.3,"u":544.3,"l":544.3},{"id":"c9","p":"c","x":1290.8,"w":517.2,"u":517.2,"l":546.3},{"id":"c9","p":"c","x":1303.2,"w":506,"u":506,"l":543.3},{"id":"c9","p":"c","x":1315.7,"w":516.9,"u":516.9,"l":541.8},{"id":"c9","p":"c","x":1328.2,"w":543.6,"u":540.3,"l":543.6},{"id":"c9","p":"c","x":1340.6,"w":570.4,"u":540.3,"l":570.4},{"id":"c9","p":"c","x":1353.1,"w":581.3,"u":539.3,"l":581.3},{"id":"c9","p":"c","x":1365.5,"w":570.1,"u":539.3,"l":570.1},{"id":"c9","p":"c","x":1378,"w":543,"u":539.3,"l":543}
],
"tempTicks":[
{"x":86,"y":34,"t":"10"},{"x":86,"y":53,"t":"5"},{"x":86,"y":73,"t":"0"},{"x":86,"y":92,"t":"-5"},{"x":86,"y":111,"t":"-10"},
{"x":87,"y":242,"t":"10"},{"x":87,"y":262,"t":"5"},{"x":87,"y":282,"t":"0"},{"x":87,"y":301,"t":"-5"},{"x":87,"y":320,"t":"-10"},
{"x":87,"y":466,"t":"10"},{"x":87,"y":485,"t":"5"},{"x":87,"y":504,"t":"0"},{"x":87,"y":524,"t":"-5"},{"x":87,"y":542,"t":"-10"}
],
"ticks":[
{"x":117,"y":127,"t":"5"},{"x":162,"y":134,"t":"4"},{"x":208,"y":142,"t":"3"},{"x":252,"y":150,"t":"2"},{"x":296,"y":158,"t":"1"},{"x":340,"y":165,"t":"0"},
{"x":118,"y":335,"t":"5"},{"x":162,"y":343,"t":"4"},{"x":207,"y":352,"t":"3"},{"x":253,"y":359,"t":"2"},{"x":298,"y":367,"t":"1"},{"x":340,"y":373,"t":"0"},
{"x":119,"y":557,"t":"5"},{"x":162,"y":565,"t":"4"},{"x":209,"y":573,"t":"3"},{"x":254,"y":581,"t":"2"},{"x":299,"y":589,"t":"1"},{"x":343,"y":597,"t":"0"},
{"x":520,"y":180,"t":"1"},{"x":624,"y":179,"t":"2"},{"x":722,"y":177,"t":"3"},{"x":826,"y":175,"t":"4"},{"x":925,"y":173,"t":"5"},{"x":1023,"y":172,"t":"6"},{"x":1127,"y":169,"t":"7"},{"x":1226,"y":167,"t":"8"},{"x":1319,"y":165,"t":"9"},{"x":1423,"y":163,"t":"10"},
{"x":516,"y":392,"t":"1"},{"x":620,"y":390,"t":"2"},{"x":718,"y":388,"t":"3"},{"x":822,"y":386,"t":"4"},{"x":921,"y":384,"t":"5"},{"x":1019,"y":383,"t":"6"},{"x":1123,"y":381,"t":"7"},{"x":1222,"y":379,"t":"8"},{"x":1316,"y":377,"t":"9"},{"x":1419,"y":375,"t":"10"},
{"x":520,"y":615,"t":"1"},{"x":624,"y":613,"t":"2"},{"x":722,"y":611,"t":"3"},{"x":826,"y":609,"t":"4"},{"x":925,"y":607,"t":"5"},{"x":1023,"y":605,"t":"6"},{"x":1127,"y":604,"t":"7"},{"x":1226,"y":602,"t":"8"},{"x":1319,"y":599,"t":"9"},{"x":1423,"y":597,"t":"10"}
],
"time":[{"x":876,"y":204,"t":"Time [days] / Czas [dni]"},{"x":880,"y":421,"t":"Time [days] / Czas [dni]"},{"x":878,"y":642,"t":"Time [days] / Czas [dni]"}],
"letters":[{"x":81,"y":177,"t":"a)"},{"x":81,"y":385,"t":"b)"},{"x":81,"y":613,"t":"c)"}],
"vert":[{"x":22,"y":80,"t":"Temperature [°C]"},{"x":43,"y":80,"t":"Temperatura"},{"x":16,"y":277,"t":"Temperature [°C]"},{"x":37,"y":277,"t":"Temperatura"},{"x":16,"y":501,"t":"Temperature [°C]"},{"x":37,"y":501,"t":"Temperatura"}],
"depth":[{"x":221,"y":197,"t":"Depth / Głębokość"},{"x":220,"y":412,"t":"Depth / Głębokość"},{"x":218,"y":634.5,"t":"Depth / Głębokość"}],
"xvar":[{"x":210,"y":175,"t":"x"},{"x":214,"y":389,"t":"x"},{"x":212,"y":612,"t":"x"}],
"xunit":[{"x":233,"y":178,"t":"[m]"},{"x":237,"y":392,"t":"[m]"},{"x":236,"y":614,"t":"[m]"}]
},
"encoding":{"x":{"field":"x","type":"quantitative","scale":{"domain":[0,1450],"nice":false,"zero":false},"axis":null},"y":{"field":"y","type":"quantitative","scale":{"domain":[653,0],"nice":false,"zero":false},"axis":null}},
"layer":[
{"data":{"name":"grid"},"mark":{"type":"rule","color":"#b9b9bd","strokeWidth":1.4},"encoding":{"x2":{"field":"u"},"y2":{"field":"v"}}},
{"data":{"name":"axes"},"mark":{"type":"rule","color":"#231f20","strokeWidth":1.6},"encoding":{"x2":{"field":"u"},"y2":{"field":"v"}}},
{"data":{"name":"surface"},"mark":{"type":"area","color":"#4fb9a3","orient":"vertical"},"encoding":{"y2":{"field":"l"},"detail":{"field":"p"}}},
{"data":{"name":"yellow1"},"mark":{"type":"line","color":"#f6e33c","strokeWidth":3.2,"strokeCap":"round"},"encoding":{"detail":{"field":"p"},"order":{"field":"x"}}},
{"data":{"name":"wave"},"transform":[{"filter":"datum.p !== 'a'"}],"mark":{"type":"area","interpolate":"monotone","orient":"vertical","color":{"gradient":"linear","x1":0,"y1":0,"x2":0,"y2":1,"stops":[{"offset":0,"color":"#fddc1e"},{"offset":0.15,"color":"#f8b520"},{"offset":0.27,"color":"#b4b93a"},{"offset":0.39,"color":"#78ba55"},{"offset":0.46,"color":"#4fb9a3"},{"offset":0.49,"color":"#4fb9a3"},{"offset":0.58,"color":"#14a5dd"},{"offset":0.77,"color":"#1c6cc0"},{"offset":1,"color":"#1b3a8c"}]}},"encoding":{"y":{"field":"u","type":"quantitative","scale":{"domain":[653,0],"nice":false,"zero":false},"axis":null},"y2":{"field":"l"},"detail":{"field":"id"}}},
{"data":{"name":"wave"},"transform":[{"filter":"datum.p === 'a'"}],"mark":{"type":"area","interpolate":"monotone","orient":"vertical","color":{"gradient":"linear","x1":0,"y1":0,"x2":0,"y2":1,"stops":[{"offset":0,"color":"#4fb9a3"},{"offset":0.1,"color":"#4fb9a3"},{"offset":0.18,"color":"#14a5dd"},{"offset":0.5,"color":"#1b85d8"},{"offset":0.75,"color":"#1b5fb8"},{"offset":1,"color":"#1b3a8c"}]}},"encoding":{"y":{"field":"u","type":"quantitative","scale":{"domain":[653,0],"nice":false,"zero":false},"axis":null},"y2":{"field":"l"},"detail":{"field":"id"}}},
{"data":{"name":"wave"},"mark":{"type":"line","interpolate":"monotone","color":"#e2252d","strokeWidth":4.6},"encoding":{"y":{"field":"w","type":"quantitative","scale":{"domain":[653,0],"nice":false,"zero":false},"axis":null},"detail":{"field":"p"}}},
{"data":{"name":"yellow2"},"mark":{"type":"line","color":"#f6e33c","strokeWidth":3},"encoding":{"detail":{"field":"p"},"order":{"field":"y"}}},
{"data":{"name":"yellow3"},"mark":{"type":"line","color":"#f6e33c","strokeWidth":3,"strokeDash":[3,1.5]},"encoding":{"detail":{"field":"p"},"order":{"field":"y"}}},
{"data":{"name":"tempTicks"},"mark":{"type":"text","font":"Liberation Sans","fontSize":18,"align":"right","baseline":"middle","color":"#231f20"},"encoding":{"text":{"field":"t"}}},
{"data":{"name":"ticks"},"mark":{"type":"text","font":"Liberation Sans","fontSize":18,"align":"center","baseline":"middle","color":"#231f20"},"encoding":{"text":{"field":"t"}}},
{"data":{"name":"time"},"mark":{"type":"text","font":"Liberation Sans","fontSize":18.6,"align":"center","baseline":"middle","color":"#231f20"},"encoding":{"text":{"field":"t"}}},
{"data":{"name":"letters"},"mark":{"type":"text","font":"Liberation Sans","fontSize":22,"align":"center","baseline":"middle","color":"#231f20"},"encoding":{"text":{"field":"t"}}},
{"data":{"name":"vert"},"mark":{"type":"text","font":"Liberation Sans","fontSize":18.7,"angle":270,"align":"center","baseline":"middle","color":"#231f20"},"encoding":{"text":{"field":"t"}}},
{"data":{"name":"depth"},"mark":{"type":"text","font":"Liberation Sans","fontSize":18.2,"angle":8,"align":"center","baseline":"middle","color":"#231f20"},"encoding":{"text":{"field":"t"}}},
{"data":{"name":"xvar"},"mark":{"type":"text","font":"Liberation Sans","fontStyle":"italic","fontSize":18.5,"angle":5,"align":"center","baseline":"middle","color":"#231f20"},"encoding":{"text":{"field":"t"}}},
{"data":{"name":"xunit"},"mark":{"type":"text","font":"Liberation Sans","fontSize":18.5,"angle":5,"align":"center","baseline":"middle","color":"#231f20"},"encoding":{"text":{"field":"t"}}}
]
}
